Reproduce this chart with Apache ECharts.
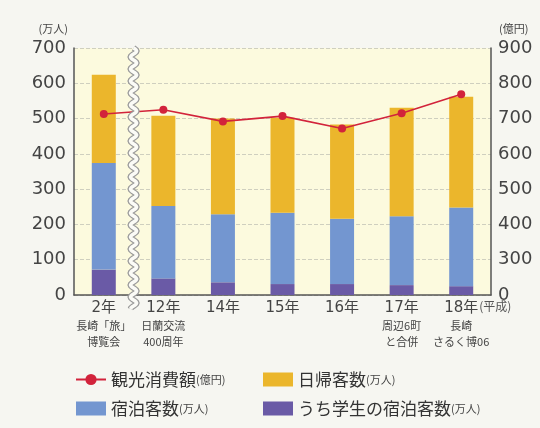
<!DOCTYPE html>
<html><head><meta charset="utf-8">
<script src="https://cdn.jsdelivr.net/npm/echarts@6/dist/echarts.min.js"></script>
<style>html,body{margin:0;padding:0;background:#f6f6f1;}#c{width:540px;height:428px;}</style>
</head><body><div id="c"></div>
<script>
const categories = ['2年','12年','14年','15年','16年','17年','18年'];
const notes = [['長崎「旅」','博覧会'],['日蘭交流','400周年'],[],[],[],['周辺6町','と合併'],['長崎','さるく博06']];
const dayTrips = [250, 256, 271, 269, 267, 308, 314];   // 日帰客数(万人)
const stays    = [374, 252, 229, 233, 216, 223, 248];   // 宿泊客数(万人)
const students = [72, 47, 36, 31, 31, 28, 25];          // うち学生の宿泊客数(万人)
const spending = [713, 725, 692, 707, 672, 715, 769];   // 観光消費額(億円)
const leftTicks = [0,100,200,300,400,500,600,700];
const rightTickLabels = ['0','300','400','500','600','700','800','900'];

const FONT = 'DejaVu Sans, Noto Sans CJK JP';
const JP = 'Noto Sans CJK JP';
const staysOther = stays.map((v,i)=>v-students[i]);

const chart = echarts.init(document.getElementById('c'));
const legendText = {rich:{m:{fontSize:17,fontFamily:JP,color:'#333',lineHeight:20},u:{fontSize:11,fontFamily:JP,color:'#444',lineHeight:20}}};
const option = {
  backgroundColor:'#f6f6f1',
  animation:false,
  grid:{left:74,right:49,top:48,bottom:133,show:true,backgroundColor:'#fcfade',borderWidth:0},
  xAxis:{type:'category',data:categories,
    axisLine:{lineStyle:{color:'#555',width:1.5}},axisTick:{show:false},
    axisLabel:{interval:0,margin:3,color:'#444',
      formatter:(v,i)=>{let s='{a|'+v+'}';notes[i].forEach(n=>{s+='\n{b|'+n+'}';});return s;},
      rich:{a:{fontSize:15,lineHeight:20,fontFamily:FONT,color:'#444'},
            b:{fontSize:11,lineHeight:16,fontFamily:JP,color:'#444'}}}},
  yAxis:[
    {type:'value',min:0,max:700,interval:100,name:'(万人)',nameLocation:'end',nameGap:14,
     nameTextStyle:{fontSize:11,color:'#444',fontFamily:JP,align:'right',padding:[0,6,0,0]},
     axisLine:{show:true,lineStyle:{color:'#555',width:1.5}},axisTick:{show:false},
     axisLabel:{fontSize:18,color:'#444',fontFamily:FONT,margin:8},
     splitLine:{lineStyle:{color:'#cfcfbf',type:'dashed'}}},
    {type:'value',min:200,max:900,interval:100,name:'(億円)',nameLocation:'end',nameGap:14,
     nameTextStyle:{fontSize:11,color:'#444',fontFamily:JP,align:'left',padding:[0,0,0,8]},
     axisLine:{show:true,lineStyle:{color:'#555',width:1.5}},axisTick:{show:false},
     axisLabel:{fontSize:18,color:'#444',fontFamily:FONT,margin:7,
       formatter:(v)=>rightTickLabels[Math.round((v-200)/100)]},
     splitLine:{show:false}}
  ],
  legend:[
    {left:75,top:371,orient:'vertical',padding:0,itemGap:12,itemWidth:30,itemHeight:14,
     data:[{name:'観光消費額'},{name:'宿泊客数',icon:'rect'}],
     formatter:(n)=>'{m|'+n+'}{u|'+(n==='観光消費額'?'(億円)':'(万人)')+'}',
     textStyle:legendText},
    {left:263,top:371,orient:'vertical',padding:0,itemGap:12,itemWidth:30,itemHeight:14,
     data:[{name:'日帰客数',icon:'rect'},{name:'うち学生の宿泊客数',icon:'rect'}],
     formatter:(n)=>'{m|'+n+'}{u|(万人)}',
     textStyle:legendText}
  ],
  series:[
    {name:'うち学生の宿泊客数',type:'bar',stack:'v',data:students,barWidth:24,itemStyle:{color:'#6a5aa6'}},
    {name:'宿泊客数',type:'bar',stack:'v',data:staysOther,barWidth:24,itemStyle:{color:'#7396d0'}},
    {name:'日帰客数',type:'bar',stack:'v',data:dayTrips,barWidth:24,itemStyle:{color:'#ebb62c'}},
    {name:'観光消費額',type:'line',yAxisIndex:1,data:spending,symbol:'circle',symbolSize:8,
     lineStyle:{color:'#d2233b',width:1.6},itemStyle:{color:'#d2233b'},z:5}
  ]
};
chart.setOption(option);

// decorative wave break between first two categories, plus (平成) note
const x0 = chart.convertToPixel({xAxisIndex:0}, 0);
const x1 = chart.convertToPixel({xAxisIndex:0}, 1);
const xm = (x0+x1)/2;
const yTop = chart.convertToPixel({yAxisIndex:0}, 700);
const yBot = chart.convertToPixel({yAxisIndex:0}, 0) + 14;
const pts = [];
for (let y=yTop; y<=yBot; y+=1) pts.push([xm + 3*Math.sin((y-yTop)/12*2*Math.PI), y]);
const x6 = chart.convertToPixel({xAxisIndex:0}, 6);
chart.setOption({graphic:[
  {type:'polyline',shape:{points:pts},style:{stroke:'#9a9a9a',lineWidth:6,fill:null},z:100},
  {type:'polyline',shape:{points:pts},style:{stroke:'#fbfbf6',lineWidth:3.5,fill:null},z:101},
  {type:'text',left:x6+18,top:yBot-14+5,style:{text:'(平成)',fontSize:12,fontFamily:JP,fill:'#555'},z:102}
]});
</script></body></html>
